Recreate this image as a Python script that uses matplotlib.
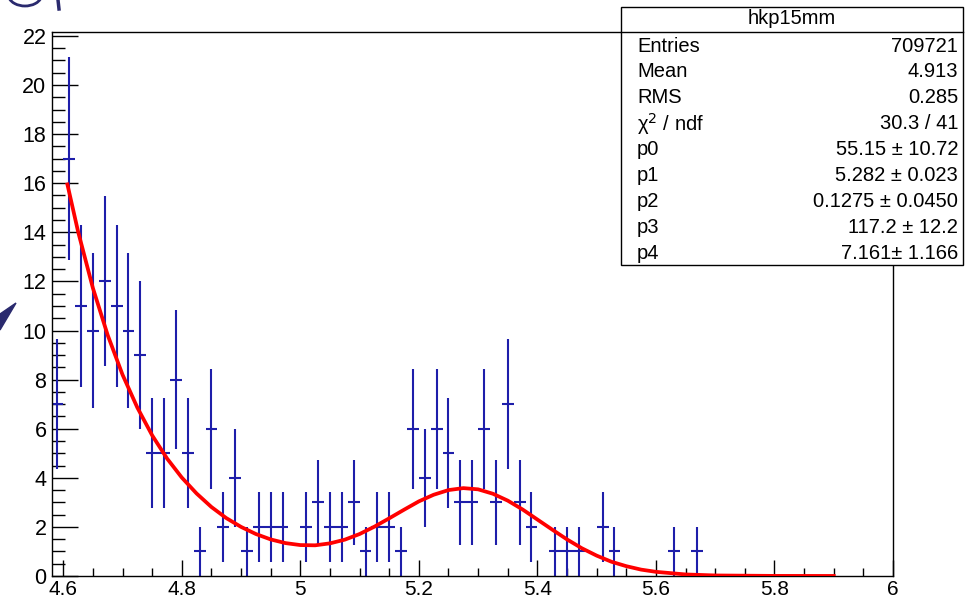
import numpy as np
import matplotlib.pyplot as plt
from matplotlib.patches import Rectangle, Polygon, Arc
from matplotlib.ticker import MultipleLocator, FuncFormatter

plt.rcParams['font.family'] = ['Liberation Sans', 'DejaVu Sans']

# histogram hkp15mm, bins of 0.02 starting at 4.58
bin_centers = np.round(4.59 + 0.02 * np.arange(55), 3)
counts = [7, 17, 11, 10, 12, 11, 10, 9, 5, 5,
          8, 5, 1, 6, 2, 4, 1, 2, 2, 2,
          0, 2, 3, 2, 2, 3, 1, 2, 2, 1,
          6, 4, 6, 5, 3, 3, 6, 3, 7, 3,
          2, 0, 1, 1, 1, 0, 2, 1, 0, 0,
          0, 0, 1, 0, 1]

# red fit curve
fit_x = [4.607, 4.625, 4.65, 4.675, 4.70, 4.725, 4.75, 4.775, 4.80, 4.825,
         4.85, 4.875, 4.90, 4.925, 4.95, 4.975, 5.00, 5.025, 5.05, 5.075,
         5.10, 5.125, 5.15, 5.175, 5.20, 5.225, 5.25, 5.275, 5.30, 5.325,
         5.35, 5.375, 5.40, 5.425, 5.45, 5.475, 5.50, 5.525, 5.55, 5.575,
         5.60, 5.65, 5.70, 5.80, 5.90]
fit_y = [15.95, 14.03, 11.73, 9.81, 8.20, 6.86, 5.73, 4.79, 4.01, 3.36,
         2.81, 2.36, 2.00, 1.71, 1.49, 1.34, 1.26, 1.25, 1.33, 1.48,
         1.71, 2.01, 2.35, 2.70, 3.04, 3.31, 3.50, 3.58, 3.53, 3.35,
         3.07, 2.71, 2.30, 1.89, 1.49, 1.13, 0.83, 0.58, 0.40, 0.26,
         0.17, 0.063, 0.022, 0.004, 0.002]

stat_title = "hkp15mm"
stat_names = ["Entries", "Mean", "RMS", "\u03c7$^2$ / ndf", "p0", "p1", "p2", "p3", "p4"]
stat_values = ["709721", "4.913", "0.285", "30.3 / 41", "55.15 \u00b1 10.72",
               "5.282 \u00b1 0.023", "0.1275 \u00b1 0.0450", "117.2 \u00b1 12.2",
               "7.161\u00b1 1.166"]

W, H = 972, 600
fig = plt.figure(figsize=(9.72, 6.0), dpi=100)
ax = fig.add_axes([52 / W, 1 - 576 / H, (893 - 52) / W, (576 - 32) / H])

counts = np.array(counts)
nz = counts > 0
ax.errorbar(bin_centers[nz], counts[nz], yerr=np.sqrt(counts[nz]), xerr=0.01,
            fmt='none', ecolor='#1e1eaa', elinewidth=1.5, capsize=0, zorder=2)
ax.plot(fit_x, fit_y, color='#ff0000', linewidth=2.7, zorder=3)

ax.set_xlim(4.581, 6.0)
ax.set_ylim(0, 22.16)
ax.xaxis.set_major_locator(MultipleLocator(0.2))
ax.xaxis.set_minor_locator(MultipleLocator(0.05))
ax.yaxis.set_major_locator(MultipleLocator(2))
ax.yaxis.set_minor_locator(MultipleLocator(0.5))
ax.xaxis.set_major_formatter(FuncFormatter(lambda v, p: "%g" % round(v, 2)))
ax.tick_params(axis='x', which='major', direction='in', length=11.5, width=1,
               labelsize=15, pad=3, top=False)
ax.tick_params(axis='x', which='minor', direction='in', length=5.8, width=1, top=False)
ax.tick_params(axis='y', which='major', direction='in', length=19, width=1,
               labelsize=15.5, pad=4, right=False)
ax.tick_params(axis='y', which='minor', direction='in', length=9.5, width=1, right=False)
for s in ax.spines.values():
    s.set_linewidth(1.0)

# stats box
bx0, bx1, by0, by1 = 621 / W, 963 / W, 1 - 265 / H, 1 - 7 / H
fig.add_artist(Rectangle((bx0, by0), bx1 - bx0, by1 - by0, transform=fig.transFigure,
                         facecolor='white', edgecolor='black', linewidth=1.0, zorder=5))
fig.add_artist(plt.Line2D([bx0, bx1], [1 - 32 / H, 1 - 32 / H], transform=fig.transFigure,
                          color='black', linewidth=1.0, zorder=6))
fig.text((bx0 + bx1) / 2, 1 - 19 / H, stat_title, ha='center', va='center',
         fontsize=14.5, zorder=7)
for i, (n, v) in enumerate(zip(stat_names, stat_values)):
    yy = 1 - (46 + 25.9 * i) / H
    fig.text(637 / W, yy, n, ha='left', va='center', fontsize=14.5, zorder=7)
    fig.text(958 / W, yy, v, ha='right', va='center', fontsize=14.5, zorder=7)

# bits of the slide around the picture
navy = '#2a2a6e'
fig.add_artist(Polygon([[0, 1 - 314 / H], [16 / W, 1 - 303 / H], [0, 1 - 330 / H]],
                       closed=True, transform=fig.transFigure, color=navy, zorder=1))
fig.add_artist(Arc((25 / W, 1 + 6 / H), 34 / W, 24 / H, theta1=200, theta2=340,
                   transform=fig.transFigure, color=navy, linewidth=2, zorder=1))
fig.add_artist(plt.Line2D([58 / W, 59 / W], [1, 1 - 9 / H], transform=fig.transFigure,
                          color=navy, linewidth=2.5, zorder=1))

fig.savefig("out.png", dpi=100)
